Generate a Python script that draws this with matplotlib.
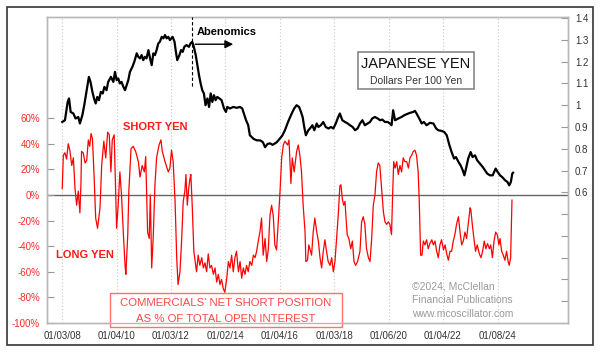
import matplotlib
matplotlib.use("Agg")
import matplotlib.pyplot as plt
from matplotlib.patches import Rectangle

plt.rcParams['font.family'] = ['Liberation Sans', 'DejaVu Sans']

# x tick labels (mm/dd/yy)
tick_labels = ["01/03/08", "01/04/10", "01/03/12", "01/02/14", "01/04/16",
               "01/03/18", "01/06/20", "01/04/22", "01/08/24"]

# Japanese yen, dollars per 100 yen (decimal year, value)
yen_t = [2008.01, 2008.11, 2008.21, 2008.26, 2008.32, 2008.42, 2008.50, 2008.60, 2008.66, 2008.75,
         2008.82, 2008.91, 2008.99, 2009.05, 2009.12, 2009.18, 2009.24, 2009.30, 2009.36, 2009.43,
         2009.50, 2009.56, 2009.64, 2009.70, 2009.80, 2009.89, 2009.95, 2010.01, 2010.07, 2010.13,
         2010.19, 2010.26, 2010.32, 2010.38, 2010.44, 2010.50, 2010.59, 2010.66, 2010.75, 2010.81,
         2010.87, 2010.93, 2010.99, 2011.05, 2011.11, 2011.18, 2011.24, 2011.30, 2011.36, 2011.42,
         2011.48, 2011.54, 2011.60, 2011.67, 2011.73, 2011.79, 2011.85, 2011.91, 2011.97, 2012.07,
         2012.14, 2012.19, 2012.24, 2012.32, 2012.38, 2012.44, 2012.50, 2012.58, 2012.67, 2012.73,
         2012.79, 2012.85, 2012.92, 2012.98, 2013.04, 2013.10, 2013.16, 2013.22, 2013.28, 2013.35,
         2013.41, 2013.47, 2013.53, 2013.59, 2013.65, 2013.71, 2013.79, 2013.87, 2013.96, 2014.03,
         2014.08, 2014.18, 2014.30, 2014.42, 2014.55, 2014.63, 2014.69, 2014.77, 2014.85, 2014.91,
         2015.05, 2015.16, 2015.30, 2015.39, 2015.47, 2015.56, 2015.65, 2015.75, 2015.90, 2016.02,
         2016.10, 2016.20, 2016.32, 2016.45, 2016.54, 2016.63, 2016.72, 2016.79, 2016.85, 2016.91,
         2016.97, 2017.06, 2017.12, 2017.21, 2017.28, 2017.37, 2017.43, 2017.52, 2017.61, 2017.70,
         2017.80, 2017.89, 2017.98, 2018.07, 2018.16, 2018.22, 2018.31, 2018.41, 2018.51, 2018.59,
         2018.69, 2018.78, 2018.87, 2018.96, 2019.05, 2019.14, 2019.24, 2019.33, 2019.41, 2019.51,
         2019.61, 2019.70, 2019.78, 2019.88, 2019.98, 2020.06, 2020.12, 2020.18, 2020.25, 2020.37,
         2020.49, 2020.59, 2020.68, 2020.80, 2020.92, 2020.98, 2021.04, 2021.14, 2021.23, 2021.31,
         2021.41, 2021.53, 2021.66, 2021.76, 2021.84, 2021.96, 2022.06, 2022.15, 2022.25, 2022.33,
         2022.42, 2022.49, 2022.58, 2022.66, 2022.74, 2022.80, 2022.86, 2022.94, 2023.03, 2023.10,
         2023.19, 2023.27, 2023.37, 2023.47, 2023.56, 2023.64, 2023.74, 2023.84, 2023.95, 2024.02,
         2024.11, 2024.19, 2024.30, 2024.38, 2024.45, 2024.51, 2024.56, 2024.59]
yen_v = [0.923, 0.931, 1.015, 1.031, 0.969, 0.962, 0.939, 0.946, 0.916, 0.954,
         1.000, 1.069, 1.130, 1.107, 1.061, 1.031, 1.008, 1.038, 1.023, 1.061,
         1.054, 1.084, 1.069, 1.107, 1.130, 1.107, 1.153, 1.115, 1.123, 1.100,
         1.107, 1.084, 1.069, 1.092, 1.115, 1.153, 1.176, 1.199, 1.238, 1.222,
         1.215, 1.230, 1.207, 1.222, 1.215, 1.253, 1.215, 1.184, 1.238, 1.230,
         1.253, 1.283, 1.291, 1.314, 1.307, 1.322, 1.307, 1.314, 1.299, 1.314,
         1.291, 1.245, 1.207, 1.230, 1.253, 1.245, 1.268, 1.276, 1.268, 1.284,
         1.291, 1.268, 1.230, 1.184, 1.138, 1.100, 1.069, 1.054, 1.000, 1.031,
         0.992, 1.054, 1.015, 1.046, 1.023, 1.038, 1.031, 1.023, 0.985, 0.969,
         0.992, 0.985, 0.992, 0.988, 0.992, 0.985, 0.962, 0.931, 0.908, 0.862,
         0.845, 0.839, 0.838, 0.830, 0.807, 0.822, 0.825, 0.818, 0.830, 0.848,
         0.860, 0.885, 0.925, 0.962, 0.985, 1.000, 0.992, 0.969, 0.946, 0.900,
         0.862, 0.885, 0.893, 0.908, 0.885, 0.916, 0.900, 0.908, 0.923, 0.900,
         0.893, 0.900, 0.893, 0.916, 0.946, 0.962, 0.931, 0.923, 0.916, 0.908,
         0.900, 0.885, 0.893, 0.916, 0.931, 0.908, 0.916, 0.923, 0.939, 0.946,
         0.939, 0.931, 0.934, 0.923, 0.923, 0.916, 0.908, 0.977, 0.931, 0.939,
         0.946, 0.954, 0.959, 0.965, 0.969, 0.974, 0.962, 0.939, 0.916, 0.923,
         0.908, 0.919, 0.916, 0.893, 0.885, 0.882, 0.877, 0.862, 0.816, 0.785,
         0.755, 0.762, 0.740, 0.724, 0.701, 0.678, 0.709, 0.755, 0.785, 0.762,
         0.770, 0.747, 0.732, 0.717, 0.701, 0.686, 0.678, 0.678, 0.709, 0.694,
         0.678, 0.670, 0.655, 0.648, 0.632, 0.648, 0.686, 0.690]

# commercials' net short position, % of open interest (decimal year, value)
cot_t = [2008.01, 2008.05, 2008.11, 2008.17, 2008.23, 2008.29, 2008.36, 2008.42, 2008.48, 2008.54,
         2008.60, 2008.66, 2008.70, 2008.72, 2008.78, 2008.85, 2008.91, 2008.97, 2009.02, 2009.07,
         2009.12, 2009.18, 2009.24, 2009.31, 2009.40, 2009.46, 2009.54, 2009.61, 2009.68, 2009.74,
         2009.80, 2009.85, 2009.92, 2009.97, 2010.01, 2010.07, 2010.13, 2010.19, 2010.26, 2010.32,
         2010.35, 2010.42, 2010.46, 2010.54, 2010.62, 2010.71, 2010.81, 2010.87, 2010.95, 2011.03,
         2011.08, 2011.15, 2011.21, 2011.25, 2011.30, 2011.36, 2011.42, 2011.48, 2011.57, 2011.64,
         2011.69, 2011.79, 2011.91, 2011.97, 2012.03, 2012.09, 2012.16, 2012.22, 2012.27, 2012.34,
         2012.40, 2012.46, 2012.52, 2012.56, 2012.61, 2012.66, 2012.71, 2012.74, 2012.79, 2012.85,
         2012.90, 2012.95, 2013.01, 2013.07, 2013.14, 2013.20, 2013.26, 2013.32, 2013.38, 2013.44,
         2013.50, 2013.57, 2013.63, 2013.69, 2013.75, 2013.81, 2013.87, 2013.93, 2013.99, 2014.06,
         2014.12, 2014.18, 2014.24, 2014.30, 2014.36, 2014.42, 2014.49, 2014.55, 2014.61, 2014.67,
         2014.73, 2014.79, 2014.85, 2014.91, 2014.98, 2015.04, 2015.10, 2015.16, 2015.22, 2015.28,
         2015.34, 2015.40, 2015.47, 2015.53, 2015.59, 2015.65, 2015.71, 2015.77, 2015.83, 2015.89,
         2015.95, 2016.02, 2016.08, 2016.14, 2016.20, 2016.30, 2016.35, 2016.42, 2016.47, 2016.54,
         2016.63, 2016.69, 2016.75, 2016.81, 2016.87, 2016.94, 2016.97, 2017.03, 2017.08, 2017.13,
         2017.18, 2017.24, 2017.30, 2017.37, 2017.43, 2017.49, 2017.55, 2017.61, 2017.67, 2017.73,
         2017.79, 2017.86, 2017.92, 2017.98, 2018.04, 2018.10, 2018.16, 2018.22, 2018.26, 2018.31,
         2018.36, 2018.41, 2018.44, 2018.49, 2018.55, 2018.62, 2018.68, 2018.74, 2018.80, 2018.87,
         2018.96, 2019.02, 2019.08, 2019.14, 2019.20, 2019.27, 2019.33, 2019.39, 2019.45, 2019.51,
         2019.57, 2019.63, 2019.69, 2019.76, 2019.82, 2019.88, 2019.94, 2020.00, 2020.06, 2020.12,
         2020.16, 2020.20, 2020.25, 2020.31, 2020.37, 2020.43, 2020.49, 2020.55, 2020.61, 2020.68,
         2020.74, 2020.80, 2020.86, 2020.92, 2020.98, 2021.04, 2021.10, 2021.14, 2021.19, 2021.24,
         2021.29, 2021.35, 2021.41, 2021.47, 2021.53, 2021.60, 2021.66, 2021.72, 2021.78, 2021.84,
         2021.90, 2021.96, 2022.03, 2022.09, 2022.15, 2022.21, 2022.27, 2022.33, 2022.39, 2022.45,
         2022.51, 2022.58, 2022.64, 2022.70, 2022.76, 2022.82, 2022.88, 2022.94, 2023.01, 2023.04,
         2023.09, 2023.15, 2023.21, 2023.27, 2023.35, 2023.41, 2023.47, 2023.53, 2023.59, 2023.65,
         2023.72, 2023.77, 2023.83, 2023.89, 2023.95, 2024.01, 2024.07, 2024.11, 2024.17, 2024.23,
         2024.29, 2024.35, 2024.41, 2024.45, 2024.50, 2024.55]
cot_v = [5, 31, 33, 28, 40, 35, 23, 29, 5, -8,
         3, -14, 10, 34, 33, 25, 27, 43, 38, 48,
         44, 16, -18, -26, -10, 23, 42, 29, 49, 47,
         18, 43, 47, 5, -26, -7, 18, 0, -31, -55,
         -62, -31, 3, 36, 38, 34, 26, 14, 23, 18,
         30, -29, -34, 0, -57, -31, 8, 29, 39, 43,
         34, 26, 18, 21, 35, 26, -5, -49, -70, -60,
         -36, -5, 3, 16, -8, 5, 13, 16, -8, -44,
         -52, -60, -47, -55, -49, -57, -53, -60, -46, -57,
         -55, -62, -57, -68, -62, -70, -66, -73, -76, -65,
         -52, -57, -47, -60, -49, -44, -60, -52, -65, -57,
         -62, -55, -60, -52, -55, -47, -49, -44, -36, -29,
         -18, -47, -34, -52, -42, -16, -8, -16, -39, -43,
         -23, 3, 29, 39, 42, 39, 43, 9, 29, 18,
         34, 39, 31, 18, -8, -29, -52, -51, -39, -43,
         -47, -29, -18, -29, -36, -49, -57, -44, -35, -44,
         -52, -55, -49, -60, -52, -34, -16, 7, 8, -3,
         -8, -5, -16, -31, -34, -42, -36, -52, -55, -52,
         -44, -21, -17, -23, -42, -49, -52, -34, -8, 0,
         18, 25, 23, 3, -13, -21, -23, -21, -23, -31,
         0, 26, 21, 26, 16, 23, 18, 29, 26, 26,
         21, 29, 31, 34, 35, 31, 18, -5, -47, -47,
         -36, -39, -35, -42, -38, -35, -39, -36, -44, -49,
         -39, -35, -43, -39, -46, -51, -44, -44, -36, -31,
         -23, -17, -29, -39, -36, -29, -34, -23, -10, -12,
         -23, -34, -44, -39, -46, -49, -44, -36, -42, -38,
         -42, -39, -49, -36, -29, -31, -39, -34, -44, -47,
         -51, -44, -52, -55, -49, -4]


def tick_pos(lbl):
    m, d, y = [int(s) for s in lbl.split("/")]
    return 2000 + y + (m - 1) / 12 + (d - 1) / 365


xticks = [tick_pos(s) for s in tick_labels]

fig = plt.figure(figsize=(6, 3.54), dpi=100)
fig.patch.set_facecolor("white")
fig.add_artist(Rectangle((7 / 600, 1 - 345 / 354), 586 / 600, 338 / 354,
                         transform=fig.transFigure, fill=False,
                         edgecolor="#444444", lw=1.3))

ax = fig.add_axes([47 / 600, 1 - 323 / 354, 521 / 600, 306 / 354])
ax2 = ax.twinx()

ax.set_xlim(2007.45, 2026.61)
ax.set_ylim(-100, 139)
ax2.set_ylim(0, 1.405)

# vertical dotted grid
for xt in xticks:
    ax.axvline(xt, color="#c8c8c8", lw=0.8, ls=(0, (1, 2)), zorder=0)
ax.axhline(0, color="#666666", lw=1.0, zorder=1)

ax.plot(cot_t, cot_v, color="#ff0000", lw=0.9, zorder=2)
ax2.plot(yen_t, yen_v, color="black", lw=1.6, zorder=3)

ax.set_xticks(xticks)
ax.set_xticklabels(tick_labels, fontsize=7, color="#333333")
ax.tick_params(axis="x", length=0, pad=6)

left_ticks = [60, 40, 20, 0, -20, -40, -60, -80, -100]
ax.set_yticks(left_ticks)
ax.set_yticklabels([f"{v}%" for v in left_ticks], fontsize=7, color="#ff2a2a")
ax.tick_params(axis="y", direction="in", length=5, color="#999999", pad=5)

right_ticks = [0.1 * i for i in range(1, 15)]
ax2.set_yticks(right_ticks)
ax2.set_yticklabels([f"{v:g}" if v > 0.55 else "" for v in
                     [round(t, 1) for t in right_ticks]], fontsize=7, color="#333333")
ax2.tick_params(axis="y", direction="in", length=5, color="#999999", pad=5)

for a in (ax, ax2):
    for s in a.spines.values():
        s.set_color("#b8b8b8")
        s.set_linewidth(1.0)

# Abenomics marker
ax2.plot([2012.78, 2012.78], [1.09, 1.405], color="black", lw=0.8, ls=(0, (3, 2)), zorder=4)
ax2.annotate("", xy=(2014.4, 1.28), xytext=(2012.8, 1.28),
             arrowprops=dict(arrowstyle="-|>", color="black", lw=1.0, mutation_scale=12))
ax2.text(2012.96, 1.335, "Abenomics", fontsize=8, fontweight="bold", va="center")

# title box
ax.add_patch(Rectangle((0.597, 0.765), 0.223, 0.121, transform=ax.transAxes,
                       facecolor="white", edgecolor="#888888", lw=1.2, zorder=5))
ax.text(0.708, 0.848, "JAPANESE YEN", transform=ax.transAxes, fontsize=10.5,
        ha="center", va="center", color="#111111", zorder=6)
ax.text(0.708, 0.792, "Dollars Per 100 Yen", transform=ax.transAxes, fontsize=7.5,
        ha="center", va="center", color="#333333", zorder=6)

ax.text(0.207, 0.64, "SHORT YEN", transform=ax.transAxes, fontsize=8,
        fontweight="bold", color="#ff1a1a", ha="center", va="center")
ax.text(0.073, 0.222, "LONG YEN", transform=ax.transAxes, fontsize=8,
        fontweight="bold", color="#ff1a1a", ha="center", va="center")

# description box
ax.add_patch(Rectangle((0.121, -0.013), 0.445, 0.111, transform=ax.transAxes,
                       facecolor="white", edgecolor="#ff7070", lw=1.0, zorder=5,
                       clip_on=False))
ax.text(0.3436, 0.065, "COMMERCIALS' NET SHORT POSITION", transform=ax.transAxes,
        fontsize=8.2, color="#ff4848", ha="center", va="center", zorder=6)
ax.text(0.3436, 0.013, "AS % OF TOTAL OPEN INTEREST", transform=ax.transAxes,
        fontsize=8.2, color="#ff4848", ha="center", va="center", zorder=6)

ax.text(0.7006, 0.118, "\u00a92024, McClellan", transform=ax.transAxes, fontsize=7.5,
        color="#9a9a9a", ha="left", va="center")
ax.text(0.7006, 0.075, "Financial Publications", transform=ax.transAxes, fontsize=7.5,
        color="#9a9a9a", ha="left", va="center")
ax.text(0.7006, 0.029, "www.mcoscillator.com", transform=ax.transAxes, fontsize=7.5,
        color="#9a9a9a", ha="left", va="center")

fig.savefig("out.png", dpi=100)
